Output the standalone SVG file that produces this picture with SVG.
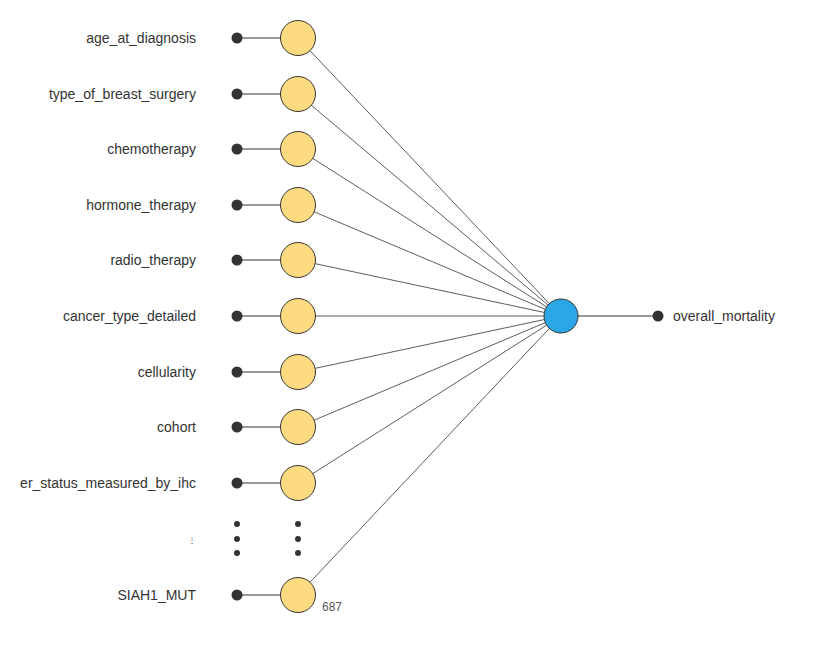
<svg xmlns="http://www.w3.org/2000/svg" width="827" height="655" viewBox="0 0 827 655">
<style>
text{font-family:"Liberation Sans",Arial,sans-serif;font-size:14px;fill:#333}
.l{text-anchor:end}
.in{fill:#333}
.n{fill:#fedb80;stroke:#333;stroke-width:1}
.c line{stroke:#333;stroke-width:1}
.c .t{stroke-width:0.8}
</style>
<rect width="827" height="655" fill="#fff"/>
<g class="c">
<line class="t" x1="298" y1="38" x2="561" y2="316"/>
<line class="t" x1="298" y1="94" x2="561" y2="316"/>
<line class="t" x1="298" y1="149" x2="561" y2="316"/>
<line class="t" x1="298" y1="205" x2="561" y2="316"/>
<line class="t" x1="298" y1="260" x2="561" y2="316"/>
<line class="t" x1="298" y1="316" x2="561" y2="316"/>
<line class="t" x1="298" y1="372" x2="561" y2="316"/>
<line class="t" x1="298" y1="427" x2="561" y2="316"/>
<line class="t" x1="298" y1="483" x2="561" y2="316"/>
<line class="t" x1="298" y1="595" x2="561" y2="316"/>
<line x1="237" y1="38" x2="298" y2="38"/>
<line x1="237" y1="94" x2="298" y2="94"/>
<line x1="237" y1="149" x2="298" y2="149"/>
<line x1="237" y1="205" x2="298" y2="205"/>
<line x1="237" y1="260" x2="298" y2="260"/>
<line x1="237" y1="316" x2="298" y2="316"/>
<line x1="237" y1="372" x2="298" y2="372"/>
<line x1="237" y1="427" x2="298" y2="427"/>
<line x1="237" y1="483" x2="298" y2="483"/>
<line x1="237" y1="595" x2="298" y2="595"/>
<line x1="561" y1="316" x2="658" y2="316"/>
</g>
<g id="n1"><text class="l" x="196" y="43">age_at_diagnosis</text><circle class="in" cx="237" cy="38" r="5.5"/><circle class="n" cx="298" cy="38" r="17.5"/></g>
<g id="n2"><text class="l" x="196" y="99">type_of_breast_surgery</text><circle class="in" cx="237" cy="94" r="5.5"/><circle class="n" cx="298" cy="94" r="17.5"/></g>
<g id="n3"><text class="l" x="196" y="154">chemotherapy</text><circle class="in" cx="237" cy="149" r="5.5"/><circle class="n" cx="298" cy="149" r="17.5"/></g>
<g id="n4"><text class="l" x="196" y="210">hormone_therapy</text><circle class="in" cx="237" cy="205" r="5.5"/><circle class="n" cx="298" cy="205" r="17.5"/></g>
<g id="n5"><text class="l" x="196" y="265">radio_therapy</text><circle class="in" cx="237" cy="260" r="5.5"/><circle class="n" cx="298" cy="260" r="17.5"/></g>
<g id="n6"><text class="l" x="196" y="321">cancer_type_detailed</text><circle class="in" cx="237" cy="316" r="5.5"/><circle class="n" cx="298" cy="316" r="17.5"/></g>
<g id="n7"><text class="l" x="196" y="377">cellularity</text><circle class="in" cx="237" cy="372" r="5.5"/><circle class="n" cx="298" cy="372" r="17.5"/></g>
<g id="n8"><text class="l" x="196" y="432">cohort</text><circle class="in" cx="237" cy="427" r="5.5"/><circle class="n" cx="298" cy="427" r="17.5"/></g>
<g id="n9"><text class="l" x="196" y="488">er_status_measured_by_ihc</text><circle class="in" cx="237" cy="483" r="5.5"/><circle class="n" cx="298" cy="483" r="17.5"/></g>
<g id="ellipsis">
<text x="188" y="543" style="font-size:8px">⋮</text>
<circle class="in" cx="237" cy="524" r="3"/><circle class="in" cx="237" cy="539" r="3"/><circle class="in" cx="237" cy="553" r="3"/>
<circle class="in" cx="298" cy="524" r="3"/><circle class="in" cx="298" cy="539" r="3"/><circle class="in" cx="298" cy="553" r="3"/>
</g>
<g id="n10"><text class="l" x="196" y="600">SIAH1_MUT</text><circle class="in" cx="237" cy="595" r="5.5"/><circle class="n" cx="298" cy="595" r="17.5"/><text x="322" y="611" style="font-size:12px;fill:#555">687</text></g>
<g id="out"><circle cx="561" cy="316" r="17" fill="#2ba7e8" stroke="#333"/><circle class="in" cx="658" cy="316" r="5.5"/><text x="673" y="321">overall_mortality</text></g>
</svg>
